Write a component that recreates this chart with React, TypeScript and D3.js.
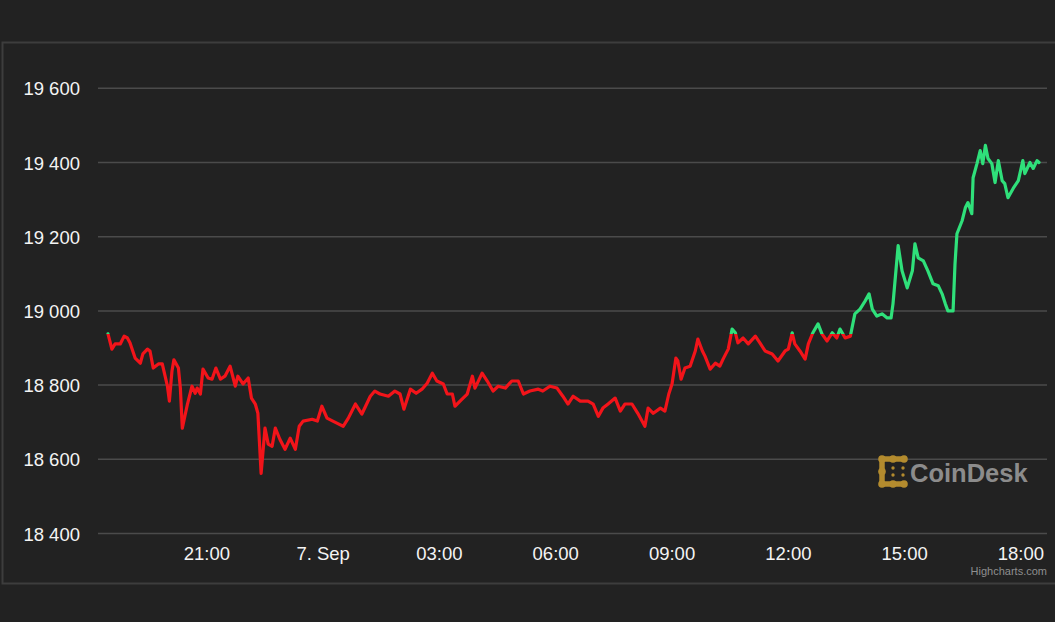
import { useRef, useEffect } from "react";
import * as d3 from "d3";

// BTC price, 6-7 Sep; time given as minutes after 18:00 on 6 Sep
const minutes = [
  27, 33, 38, 46, 52, 57, 61, 69, 77, 81, 88, 92, 97, 105, 111, 119, 122, 126, 129, 136,
  139, 142, 150, 157, 162, 165, 170, 174, 182, 188, 194, 201, 208, 216, 224, 228, 236, 244, 249, 255,
  259, 264, 270, 275, 281, 286, 293, 301, 309, 317, 323, 329, 343, 351, 358, 366, 375, 382, 391, 399,
  410, 420, 433, 440, 448, 461, 471, 479, 485, 495, 504, 513, 521, 529, 536, 546, 552, 560, 564, 575,
  583, 591, 595, 606, 614, 623, 631, 642, 652, 662, 670, 680, 693, 700, 711, 722, 731, 739, 747, 758,
  770, 778, 786, 793, 801, 812, 820, 827, 838, 847, 858, 863, 871, 882, 889, 895, 900, 906, 909, 914,
  920, 928, 936, 940, 947, 951, 959, 967, 974, 979, 987, 993, 998, 1002, 1010, 1018, 1029, 1036, 1044, 1055,
  1064, 1075, 1080, 1086, 1090, 1098, 1106, 1111, 1118, 1126, 1132, 1140, 1148, 1155, 1160, 1168, 1176, 1183, 1191, 1199,
  1205, 1210, 1217, 1225, 1233, 1239, 1242, 1250, 1256, 1264, 1272, 1276, 1281, 1289, 1296, 1304, 1312, 1318, 1323, 1327,
  1335, 1338, 1341, 1349, 1354, 1358, 1364, 1366, 1372, 1377, 1381, 1385, 1389, 1395, 1400, 1405, 1411, 1415, 1420, 1428,
  1436, 1443, 1446, 1454, 1459, 1465, 1468,
];
const prices = [
  18938, 18897, 18911, 18911, 18932, 18927, 18914, 18873, 18859, 18884, 18897, 18892, 18846, 18857, 18857, 18797, 18757, 18838, 18868, 18846,
  18792, 18684, 18749, 18797, 18778, 18792, 18776, 18843, 18819, 18816, 18846, 18816, 18824, 18851, 18797, 18824, 18803, 18819, 18765, 18749,
  18724, 18562, 18684, 18641, 18635, 18684, 18654, 18627, 18657, 18627, 18689, 18703, 18708, 18703, 18743, 18711, 18703, 18697, 18689, 18711,
  18749, 18722, 18770, 18784, 18776, 18770, 18784, 18776, 18735, 18789, 18778, 18789, 18805, 18832, 18811, 18803, 18776, 18776, 18743, 18762,
  18776, 18824, 18792, 18832, 18811, 18784, 18797, 18792, 18811, 18811, 18776, 18784, 18789, 18784, 18797, 18792, 18770, 18749, 18770, 18757,
  18757, 18749, 18716, 18738, 18749, 18765, 18730, 18749, 18749, 18724, 18689, 18738, 18724, 18738, 18730, 18776, 18803, 18873, 18865, 18816,
  18846, 18851, 18892, 18924, 18892, 18878, 18843, 18859, 18851, 18870, 18897, 18951, 18941, 18914, 18927, 18911, 18932, 18914, 18892, 18884,
  18865, 18892, 18897, 18941, 18911, 18892, 18870, 18911, 18941, 18965, 18938, 18919, 18941, 18927, 18951, 18927, 18932, 18992, 19005, 19027,
  19046, 19005, 18986, 18992, 18981, 18981, 19019, 19176, 19108, 19062, 19108, 19181, 19143, 19135, 19108, 19073, 19068, 19046, 19019, 19000,
  19000, 19127, 19208, 19243, 19278, 19292, 19262, 19359, 19397, 19432, 19397, 19446, 19411, 19397, 19346, 19405, 19351, 19343, 19305, 19330,
  19351, 19405, 19370, 19400, 19384, 19405, 19400,
];

const yTicks = [18400, 18600, 18800, 19000, 19200, 19400, 19600];
const xTicks = [
  "2022-09-06T21:00", "2022-09-07T00:00", "2022-09-07T03:00", "2022-09-07T06:00",
  "2022-09-07T09:00", "2022-09-07T12:00", "2022-09-07T15:00", "2022-09-07T18:00",
];

const UP = "#2fe07a";
const DOWN = "#f2141a";
const FONT = "'Liberation Sans', Arial, Helvetica, sans-serif";

export default function App() {
  const ref = useRef<SVGSVGElement>(null);

  useEffect(() => {
    if (!ref.current) return;
    const W = 1055;
    const H = 622;
    const svg = d3.select(ref.current);
    svg.selectAll("*").remove();

    const data = minutes.map((m, i) => ({ t: new Date(2022, 8, 6, 18, m), v: prices[i] }));
    const gridL = 98, gridR = 1047;

    const x = d3.scaleTime()
      .domain(d3.extent(data, (d) => d.t) as [Date, Date])
      .range([108, 1039]);
    const y = d3.scaleLinear().domain([18400, 19600]).range([533.5, 88.3]);

    // background + panel frame
    svg.append("rect").attr("width", W).attr("height", H).attr("fill", "#222222");
    svg.append("path")
      .attr("d", `M${W},42.5H2.5V583.5H${W}`)
      .attr("fill", "none").attr("stroke", "#3d3d3d").attr("stroke-width", 2);

    // Grid
    svg.append("g").selectAll("line").data(yTicks).join("line")
      .attr("x1", gridL).attr("x2", gridR)
      .attr("y1", (d) => y(d)).attr("y2", (d) => y(d))
      .attr("stroke", "#4b4b4b").attr("stroke-width", 1.5);

    // Y labels
    const fmt = (v: number) => d3.format(",")(v).replace(",", " ");
    svg.append("g").selectAll("text").data(yTicks).join("text")
      .attr("x", 80).attr("y", (d) => y(d) + 7)
      .attr("text-anchor", "end")
      .attr("font-family", FONT).attr("font-size", 18.5).attr("fill", "#f4f4f4")
      .text((d) => fmt(d));

    // X labels
    const parse = d3.timeParse("%Y-%m-%dT%H:%M");
    const xLabel = (d: Date) => (d.getHours() === 0 ? d3.timeFormat("%-d. %b")(d) : d3.timeFormat("%H:%M")(d));
    svg.append("g").selectAll("text").data(xTicks.map((s) => parse(s) as Date)).join("text")
      .attr("x", (d) => x(d)).attr("y", 560)
      .attr("text-anchor", "middle")
      .attr("font-family", FONT).attr("font-size", 18.5).attr("fill", "#f4f4f4")
      .text((d) => xLabel(d));

    // Watermark
    const wm = svg.append("g").attr("transform", "translate(878,456)");
    const gold = "#b38b2e";
    wm.append("path")
      .attr("d", "M26,3H4V28H26")
      .attr("fill", "none").attr("stroke", gold).attr("stroke-width", 5.5)
      .attr("stroke-linecap", "round").attr("stroke-linejoin", "round");
    [[4, 3], [4, 15.5], [4, 28], [15, 3], [26, 3], [15, 28], [26, 28]].forEach(([cx, cy]) => {
      wm.append("circle").attr("cx", cx).attr("cy", cy).attr("r", 3.8).attr("fill", gold);
    });
    [[15, 12], [15, 19], [25, 12], [25, 19]].forEach(([cx, cy]) => {
      wm.append("circle").attr("cx", cx).attr("cy", cy).attr("r", 1.7).attr("fill", gold);
    });
    wm.append("text")
      .attr("x", 32).attr("y", 26)
      .attr("font-family", FONT).attr("font-weight", "bold").attr("font-size", 25.5)
      .attr("fill", "#8c8c8c")
      .text("CoinDesk");

    // Price line, coloured by zone around the opening price
    const thr = y(prices[0]);
    const defs = svg.append("defs");
    defs.append("clipPath").attr("id", "above").append("rect")
      .attr("x", 0).attr("y", 0).attr("width", W).attr("height", thr);
    defs.append("clipPath").attr("id", "below").append("rect")
      .attr("x", 0).attr("y", thr).attr("width", W).attr("height", H - thr);

    const line = d3.line<{ t: Date; v: number }>().x((d) => x(d.t)).y((d) => y(d.v));
    [["below", DOWN], ["above", UP]].forEach(([id, color]) => {
      svg.append("path")
        .datum(data)
        .attr("d", line)
        .attr("clip-path", `url(#${id})`)
        .attr("fill", "none").attr("stroke", color).attr("stroke-width", 3.2)
        .attr("stroke-linejoin", "round").attr("stroke-linecap", "round");
    });

    // Credits
    svg.append("text")
      .attr("x", 1047).attr("y", 575).attr("text-anchor", "end")
      .attr("font-family", FONT).attr("font-size", 11).attr("fill", "#8f8f8f")
      .text("Highcharts.com");
  }, []);

  return (
    <svg
      ref={ref}
      width={1055}
      height={622}
      style={{ position: "absolute", left: 0, top: 0, display: "block" }}
    />
  );
}
